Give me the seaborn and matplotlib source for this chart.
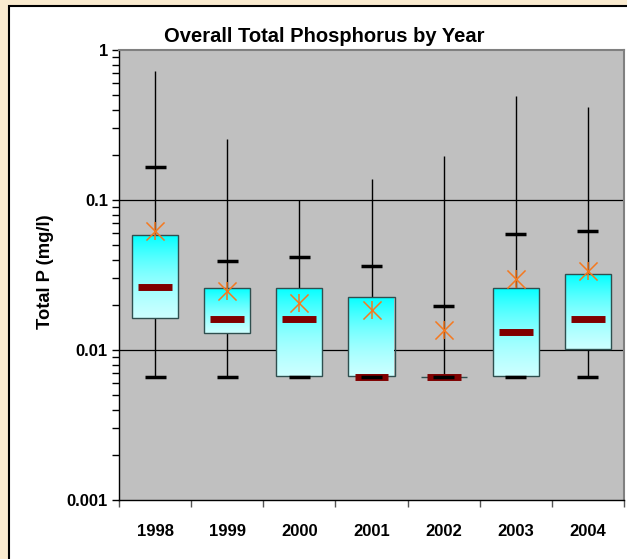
import numpy as np
import pandas as pd
import matplotlib
matplotlib.use("Agg")
import matplotlib.pyplot as plt
from matplotlib.colors import LinearSegmentedColormap
from matplotlib.patches import Rectangle
from matplotlib.ticker import FixedLocator, LogLocator, NullFormatter, FuncFormatter
import seaborn as sns

# box stats per year (mg/l)
years = ["1998", "1999", "2000", "2001", "2002", "2003", "2004"]
p_max = [0.72, 0.256, 0.100, 0.139, 0.195, 0.49, 0.42]
p_90 = [0.166, 0.0394, 0.0417, 0.0364, 0.0197, 0.059, 0.0622]
p_q3 = [0.058, 0.026, 0.026, 0.0227, 0.0066, 0.026, 0.032]
p_median = [0.0263, 0.0162, 0.0162, 0.0066, 0.0066, 0.0132, 0.0162]
p_q1 = [0.0163, 0.013, 0.0067, 0.0067, 0.0066, 0.0067, 0.0102]
p_min = [0.0066, 0.0066, 0.0066, 0.0066, 0.0066, 0.0066, 0.0066]
p_mean = [0.0617, 0.0246, 0.0206, 0.0184, 0.0135, 0.0299, 0.0337]

sns.set_theme(style="white")
plt.rcParams['font.family'] = ['Liberation Sans', 'DejaVu Sans']
plt.rcParams['text.color'] = 'black'
plt.rcParams['xtick.color'] = 'black'
plt.rcParams['ytick.color'] = 'black'

df = pd.DataFrame({"year": years, "pos": np.arange(len(years)), "mean": p_mean})
x = df["pos"].to_numpy()

fig = plt.figure(figsize=(6.27, 5.59), dpi=100, facecolor='#FAEBCF')
# white chart panel (runs off the right and bottom edge)
fig.patches.append(Rectangle((9/627, -0.05), 1.0, 553/559 + 0.05, transform=fig.transFigure,
                             facecolor='white', edgecolor='black', lw=1.5, zorder=-5))

ax = fig.add_axes([119/627, 1 - 500/559, 505/627, 450/559])
ax.set_zorder(2)
ax.set_facecolor('#C0C0C0')
ax.set_yscale('log')

# whiskers min -> max
ax.vlines(x, p_min, p_max, color='black', lw=1, zorder=2)

# boxes with cyan gradient
cmap = LinearSegmentedColormap.from_list("cy", ['#CCFFFF', '#00FFFF'])
grad = np.linspace(1, 0, 256).reshape(-1, 1)
heights = np.array(p_q3) - np.array(p_q1)
bars = ax.bar(x, heights, bottom=p_q1, width=0.64, facecolor='none',
              edgecolor='#2F4F4F', lw=1, zorder=3)
for b, xi, lo, hi in zip(bars, x, p_q1, p_q3):
    if hi <= lo:
        continue
    im = ax.imshow(grad, cmap=cmap, extent=[xi - 0.32, xi + 0.32, lo, hi],
                   aspect='auto', origin='upper', zorder=2.5)
    im.set_clip_path(b)

# medians and percentile dashes
ax.hlines(p_median, x - 0.235, x + 0.235, color='#800000', lw=5, zorder=4, capstyle='butt')
ax.hlines(p_90, x - 0.145, x + 0.145, color='black', lw=2.5, zorder=5, capstyle='butt')
ax.hlines(p_min, x - 0.145, x + 0.145, color='black', lw=2.5, zorder=5, capstyle='butt')

# means
sns.scatterplot(data=df, x="pos", y="mean", marker="x", s=170, color='#F5791F',
                linewidth=1.1, ax=ax, legend=False, zorder=6)
sns.scatterplot(data=df, x="pos", y="mean", marker="|", s=170, color='#F5791F',
                linewidth=1.1, ax=ax, legend=False, zorder=6)

ax.set_xlim(-0.5, 6.5)
ax.set_ylim(0.001, 1)
ax.set_xlabel("")
ax.set_ylabel("")

# gridlines at decades
for v in [0.01, 0.1]:
    ax.axhline(v, color='black', lw=0.9, zorder=1)

ax.yaxis.set_major_locator(FixedLocator([0.001, 0.01, 0.1, 1]))
ax.yaxis.set_major_formatter(FuncFormatter(lambda v, p: f"{v:g}"))
ax.yaxis.set_minor_locator(LogLocator(base=10, subs=np.arange(2, 10)))
ax.yaxis.set_minor_formatter(NullFormatter())
ax.tick_params(axis='y', which='both', direction='out', length=5, width=1, color='black',
               left=True, labelsize=12, pad=3)

ax.xaxis.set_major_locator(FixedLocator(np.arange(-0.5, 7, 1)))
ax.xaxis.set_major_formatter(NullFormatter())
ax.xaxis.set_minor_locator(FixedLocator(x))
ax.xaxis.set_minor_formatter(FuncFormatter(lambda v, p: years[int(round(v))]))
ax.tick_params(axis='x', which='major', direction='out', length=5, width=1, color='#555555', bottom=True)
ax.tick_params(axis='x', which='minor', length=0, labelsize=12, pad=17, bottom=True)
for lab in ax.get_xticklabels(minor=True) + ax.get_yticklabels():
    lab.set_fontweight('bold')

for side in ['left', 'bottom']:
    ax.spines[side].set_color('black')
    ax.spines[side].set_linewidth(1)
for side in ['top', 'right']:
    ax.spines[side].set_color('#808080')
    ax.spines[side].set_linewidth(1.5)

fig.text(324/627, 1 - 37/559, "Overall Total Phosphorus by Year", ha='center', va='center',
         fontsize=14.5, fontweight='bold')
fig.text(45/627, 1 - 272/559, "Total P (mg/l)", ha='center', va='center', rotation=90,
         fontsize=13.2, fontweight='bold')

fig.savefig("out.png", dpi=100, facecolor=fig.get_facecolor())
